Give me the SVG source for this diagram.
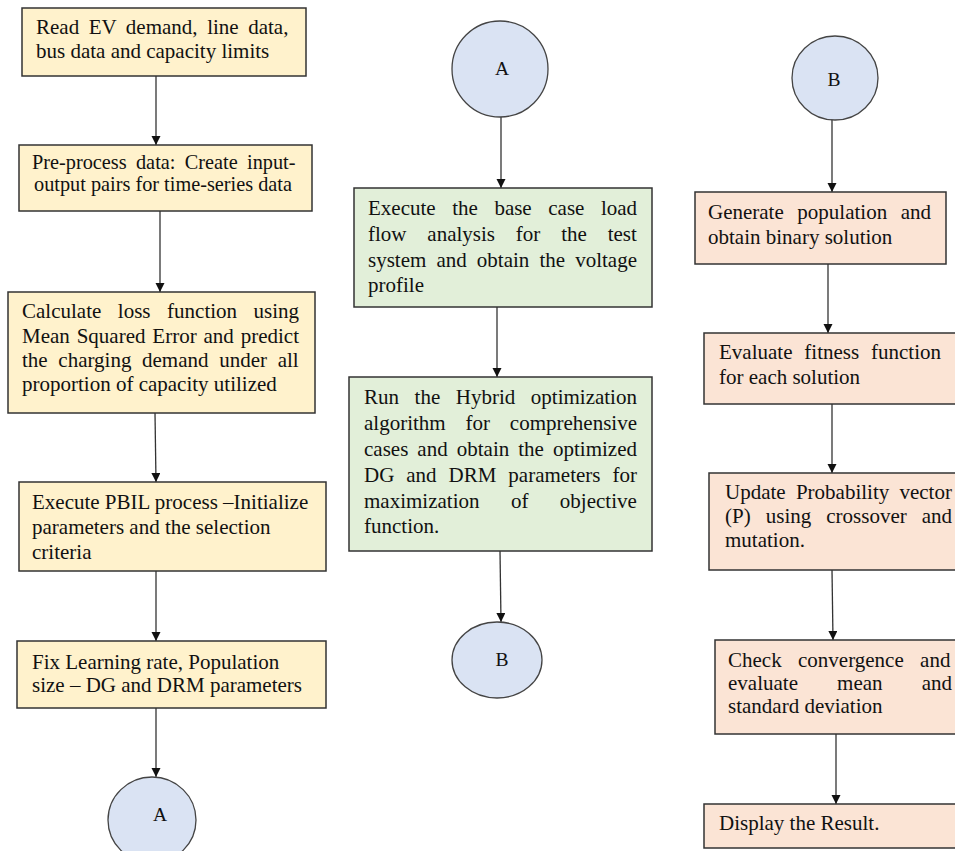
<svg xmlns="http://www.w3.org/2000/svg" width="955" height="851" viewBox="0 0 955 851">
<style>
.y{fill:#FFF2CC;stroke:#333;stroke-width:1.5}
.g{fill:#E2EFD9;stroke:#333;stroke-width:1.5}
.p{fill:#FBE4D5;stroke:#333;stroke-width:1.5}
.c{fill:#DAE3F3;stroke:#444;stroke-width:1.3}
text{font-family:"Liberation Serif","Times New Roman",serif;font-size:21px;fill:#111}
.lbl{font-size:19.5px}
.e{stroke:#333;stroke-width:1.3;fill:none;marker-end:url(#ah)}
</style>
<defs>
<marker id="ah" markerWidth="10" markerHeight="11" refX="9" refY="4.5" orient="auto" markerUnits="userSpaceOnUse">
<path d="M0,0 L9,4.5 L0,9 Z" fill="#111"/>
</marker>
</defs>
<rect width="955" height="851" fill="#fff"/>
<g id="connectors">
<line class="e" x1="156" y1="76" x2="156" y2="145"/>
<line class="e" x1="160" y1="211" x2="160" y2="292"/>
<line class="e" x1="155" y1="413" x2="156" y2="482"/>
<line class="e" x1="156" y1="571" x2="156" y2="641"/>
<line class="e" x1="156" y1="708" x2="156" y2="777"/>
<line class="e" x1="501" y1="117" x2="501" y2="188"/>
<line class="e" x1="497" y1="307" x2="497" y2="377"/>
<line class="e" x1="500" y1="551" x2="501" y2="622"/>
<line class="e" x1="832" y1="119" x2="832" y2="192"/>
<line class="e" x1="828" y1="264" x2="828" y2="333"/>
<line class="e" x1="832" y1="404" x2="832" y2="473"/>
<line class="e" x1="832" y1="570" x2="833" y2="640"/>
<line class="e" x1="836" y1="734" x2="836" y2="804"/>
</g>
<g id="n1"><rect class="y" x="22" y="8" width="284" height="68"/>
<text x="36" y="34" word-spacing="4.3">Read EV demand, line data,</text>
<text x="36" y="58">bus data and capacity limits</text></g>
<g id="n2"><rect class="y" x="19" y="145" width="293" height="66"/>
<text x="32" y="169" style="font-size:20.3px" word-spacing="4.3">Pre-process data: Create input-</text>
<text x="34" y="191" style="font-size:20.3px">output pairs for time-series data</text></g>
<g id="n3"><rect class="y" x="8" y="292" width="307" height="121"/>
<text x="22" y="318" word-spacing="11.3">Calculate loss function using</text>
<text x="22" y="343" word-spacing="1.6">Mean Squared Error and predict</text>
<text x="22" y="367" word-spacing="5.4">the charging demand under all</text>
<text x="22" y="391">proportion of capacity utilized</text></g>
<g id="n4"><rect class="y" x="19" y="482" width="307" height="89"/>
<text x="32" y="509">Execute PBIL process –Initialize</text>
<text x="32" y="534">parameters and the selection</text>
<text x="32" y="559">criteria</text></g>
<g id="n5"><rect class="y" x="17" y="641" width="309" height="67"/>
<text x="32" y="669">Fix Learning rate, Population</text>
<text x="32" y="692">size – DG and DRM parameters</text></g>
<g id="a1"><ellipse class="c" cx="152" cy="820" rx="44" ry="43"/>
<text class="lbl" x="160" y="821" text-anchor="middle">A</text></g>
<g id="a2"><circle class="c" cx="500" cy="69" r="48"/>
<text class="lbl" x="502" y="75" text-anchor="middle">A</text></g>
<g id="m1"><rect class="g" x="354" y="188" width="298" height="119"/>
<text x="368" y="215" word-spacing="11.3">Execute the base case load</text>
<text x="368" y="241" word-spacing="15.6">flow analysis for the test</text>
<text x="368" y="267" word-spacing="4.85">system and obtain the voltage</text>
<text x="368" y="292">profile</text></g>
<g id="m2"><rect class="g" x="349" y="377" width="303" height="174"/>
<text x="364" y="404" word-spacing="10.3">Run the Hybrid optimization</text>
<text x="364" y="430" word-spacing="14.6">algorithm for comprehensive</text>
<text x="364" y="456" word-spacing="3.8">cases and obtain the optimized</text>
<text x="364" y="482" word-spacing="6.7">DG and DRM parameters for</text>
<text x="364" y="508" word-spacing="26.2">maximization of objective</text>
<text x="364" y="533">function.</text></g>
<g id="b1"><ellipse class="c" cx="497" cy="660" rx="45" ry="38"/>
<text class="lbl" x="502" y="666" text-anchor="middle">B</text></g>
<g id="b2"><ellipse class="c" cx="835" cy="78" rx="43" ry="42"/>
<text class="lbl" x="834" y="86" text-anchor="middle">B</text></g>
<g id="r1"><rect class="p" x="695" y="192" width="251" height="72"/>
<text x="708" y="219" word-spacing="8.3">Generate population and</text>
<text x="708" y="244">obtain binary solution</text></g>
<g id="r2"><rect class="p" x="704" y="333" width="265" height="71"/>
<text x="719" y="359" word-spacing="6.6">Evaluate fitness function</text>
<text x="719" y="384">for each solution</text></g>
<g id="r3"><rect class="p" x="709" y="473" width="260" height="97"/>
<text x="725" y="499" word-spacing="5">Update Probability vector</text>
<text x="725" y="523" word-spacing="9.8">(P) using crossover and</text>
<text x="725" y="547">mutation.</text></g>
<g id="r4"><rect class="p" x="715" y="640" width="254" height="94"/>
<text x="728" y="667" word-spacing="11.1">Check convergence and</text>
<text x="728" y="690" word-spacing="33.9">evaluate mean and</text>
<text x="728" y="713">standard deviation</text></g>
<g id="r5"><rect class="p" x="704" y="804" width="265" height="44"/>
<text x="719" y="830">Display the Result.</text></g>
</svg>
